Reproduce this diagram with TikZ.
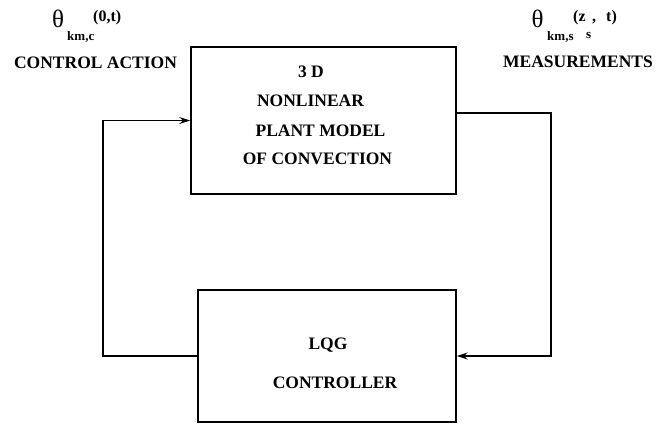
\documentclass[tikz,border=0pt]{standalone}
\usepackage{fontspec}
\setmainfont{Liberation Serif}
\usetikzlibrary{arrows.meta}
\tikzset{
  blk/.style={draw=black, line width=1.7pt, rectangle, inner sep=0pt},
  conn/.style={draw=black, line width=1.1pt},
  arr/.style={-{Stealth[length=11pt,width=7pt,inset=4pt]}},
  lab/.style={font=\bfseries\fontsize{17.5}{20}\selectfont, inner sep=0pt, anchor=base},
  thet/.style={font=\fontsize{25}{27}\selectfont, inner sep=0pt, anchor=base west},
  sub/.style={font=\bfseries\fontsize{13}{14}\selectfont, inner sep=0pt, anchor=base west},
  arg/.style={font=\bfseries\fontsize{16}{18}\selectfont, inner sep=0pt, anchor=base west},
}
\begin{document}
\begin{tikzpicture}[x=1pt,y=-1pt]
\useasboundingbox (0,0) rectangle (672,424);
% boxes
\node[blk, minimum width=265pt, minimum height=147pt] (plant) at (323.5,120.5) {};
\node[blk, minimum width=258pt, minimum height=132pt] (ctrl) at (327,356) {};
% box texts
\node[lab] (p1) at (311,77) {3 D};
\node[lab] (p2) at (310.5,106.5) {NONLINEAR};
\node[lab] (p3) at (320.5,136) {PLANT MODEL};
\node[lab] (p4) at (317.5,164.5) {OF CONVECTION};
\node[lab] (c1) at (328,349) {LQG};
\node[lab] (c2) at (335,388) {CONTROLLER};
% connectors
\coordinate (lc) at (103,356);
\coordinate (rc) at (551,113);
\draw[conn, arr] (ctrl.west) -- (lc) |- (plant.west);
\draw[conn, arr] (plant.east |- rc) -- (rc) |- (ctrl.east);
% left label
\node[lab] (ca) at (95.5,68) {CONTROL ACTION};
\node[thet] (th1) at (52,27) {θ};
\node[sub] (s1) at (67,40) {km,c};
\node[arg] (a1) at (93,21) {(0,t)};
% right label
\node[lab] (me) at (578,67.5) {MEASUREMENTS};
\node[thet] (th2) at (531.5,27) {θ};
\node[sub] (s2) at (547,40) {km,s};
\node[arg] (a2) at (573,21) {(z};
\node[sub] (s3) at (586,38) {s};
\node[arg] (a3) at (592,21) {,};
\node[arg] (a4) at (606,21) {t)};
\end{tikzpicture}
\end{document}
